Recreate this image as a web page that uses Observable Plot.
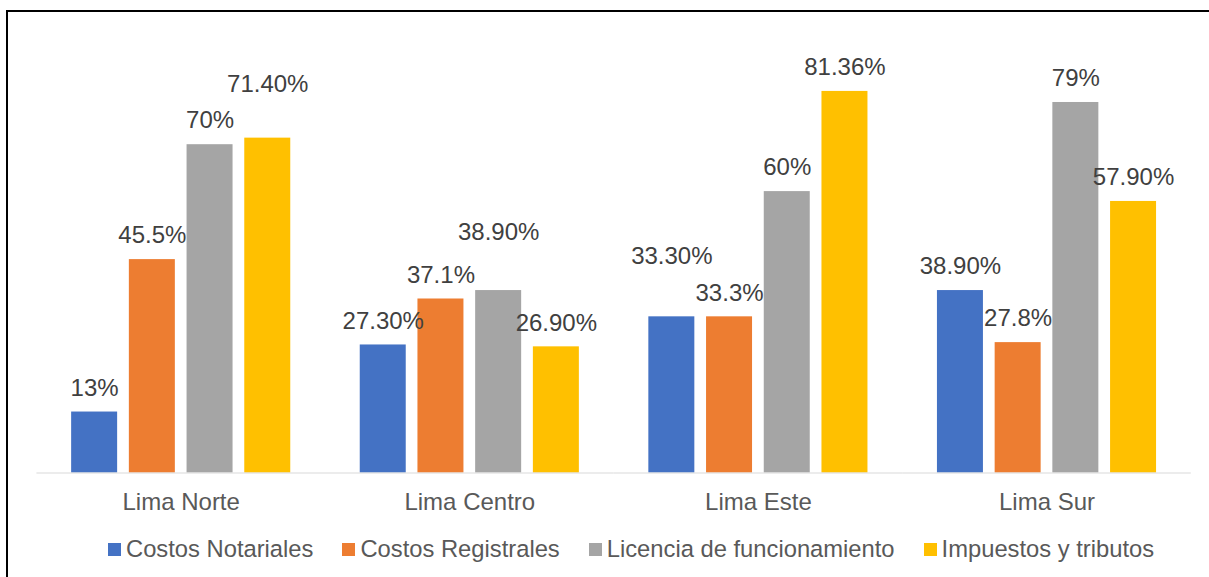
<!DOCTYPE html>
<html>
<head>
<meta charset="utf-8">
<script src="https://cdn.jsdelivr.net/npm/d3@7"></script>
<script src="https://cdn.jsdelivr.net/npm/@observablehq/plot@0.6"></script>
<style>
  html, body { margin: 0; padding: 0; background: #fff; }
  #wrap { position: relative; width: 1209px; height: 577px; overflow: hidden; font-family: "Liberation Sans", Arial, sans-serif; }
  #frame { position: absolute; left: 5.5px; top: 10px; right: -10px; bottom: -10px; border-left: 2px solid #000; border-top: 2px solid #000; }
  #chart { position: absolute; left: 0; top: 0; }
  #legend { position: absolute; left: 108px; top: 535px; display: flex; align-items: center; font-size: 23.75px; color: #595959; white-space: nowrap; }
  .item { display: flex; align-items: center; margin-right: 29px; }
  .sw { width: 13px; height: 13px; margin-right: 5px; margin-top: 1px; }
</style>
</head>
<body>
<div id="wrap">
  <div id="frame"></div>
  <div id="chart"></div>
  <div id="legend"></div>
</div>
<script>
// ---- data ----
const regions = ["Lima Norte", "Lima Centro", "Lima Este", "Lima Sur"];
const series = ["Costos Notariales", "Costos Registrales", "Licencia de funcionamiento", "Impuestos y tributos"];
const notariales = [13, 27.3, 33.3, 38.9];
const registrales = [45.5, 37.1, 33.3, 27.8];
const licencia = [70, 38.9, 60, 79];
const impuestos = [71.4, 26.9, 81.36, 57.9];
const notarialesLabels = ["13%", "27.30%", "33.30%", "38.90%"];
const registralesLabels = ["45.5%", "37.1%", "33.3%", "27.8%"];
const licenciaLabels = ["70%", "38.90%", "60%", "79%"];
const impuestosLabels = ["71.40%", "26.90%", "81.36%", "57.90%"];

// ---- styles ----
const colors = ["#4472C4", "#ED7D31", "#A5A5A5", "#FFC000"];
// extra upward nudge (px) of a few data labels, as placed in the original
const labelLift = {
  "Lima Norte|Impuestos y tributos": 30,
  "Lima Centro|Licencia de funcionamiento": 34,
  "Lima Este|Costos Notariales": 37
};

const valueSets = [notariales, registrales, licencia, impuestos];
const labelSets = [notarialesLabels, registralesLabels, licenciaLabels, impuestosLabels];
const data = [];
regions.forEach((r, i) => {
  series.forEach((s, j) => {
    data.push({region: r, series: s, value: valueSets[j][i], label: labelSets[j][i], lift: labelLift[r + "|" + s] || 0});
  });
});

const lifts = [...new Set(data.map(d => d.lift))];
const textMarks = lifts.map(l => Plot.text(data.filter(d => d.lift === l), {
  fx: "region", x: "series", y: "value", text: "label",
  dy: -24 - l, fill: "#404040", fontSize: 24
}));

const chart = Plot.plot({
  width: 1209,
  height: 520,
  marginLeft: 36.4,
  marginRight: 18.2,
  marginTop: 3.5,
  marginBottom: 47.5,
  style: {fontFamily: "'Liberation Sans', Arial, sans-serif", fontSize: "24px", background: "transparent", overflow: "visible"},
  fx: {domain: regions, padding: 0, round: false, label: null},
  x: {domain: series, paddingInner: 0.203, paddingOuter: 0.602, round: false, axis: null},
  y: {domain: [0, 100], axis: null},
  color: {domain: series, range: colors},
  marks: [
    Plot.barY(data, {fx: "region", x: "series", y: "value", fill: "series"}),
    Plot.ruleY([0], {stroke: "#d9d9d9", strokeWidth: 1.2}),
    ...textMarks,
    Plot.axisFx({anchor: "bottom", tickSize: 0, tickPadding: 20, label: null, fill: "#595959", fontSize: 24})
  ]
});
document.getElementById("chart").appendChild(chart);

// ---- legend ----
const legend = document.getElementById("legend");
series.forEach((s, j) => {
  const item = document.createElement("div");
  item.className = "item";
  const sw = document.createElement("div");
  sw.className = "sw";
  sw.style.background = colors[j];
  const t = document.createElement("span");
  t.textContent = s;
  item.appendChild(sw);
  item.appendChild(t);
  legend.appendChild(item);
});
</script>
</body>
</html>
